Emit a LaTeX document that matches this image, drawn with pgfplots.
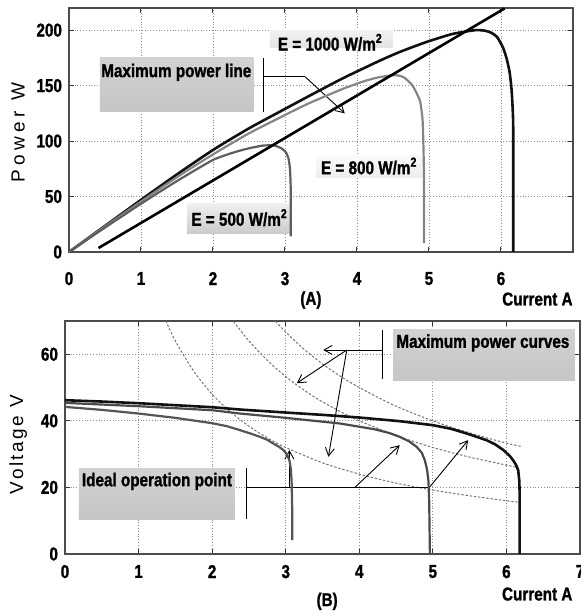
\documentclass[border=0pt]{standalone}
\usepackage{fontspec}
\setmainfont{Liberation Sans}[FakeStretch=0.82, BoldFeatures={FakeBold=1.2}]
\newfontfamily\labelfont{Liberation Sans}
\usepackage{pgfplots}
\pgfplotsset{compat=1.18}
\usetikzlibrary{arrows.meta}

\definecolor{c1000}{HTML}{111111}
\definecolor{c800a}{HTML}{858585}
\definecolor{c500a}{HTML}{5E5E5E}
\definecolor{c800b}{HTML}{4A4A4A}
\definecolor{c500b}{HTML}{555555}

\newcommand{\figfont}{\fontsize{9.3}{10}\selectfont\bfseries}

\tikzset{
  ann/.style={black, line width=0.45pt},
  tip/.style={-{Straight Barb[length=4pt,width=4.5pt]}},
}
\pgfplotsset{
  pv/.style={
    scale only axis,
    clip=false,
    xmin=0, xmax=7,
    axis line style={black!70, line width=0.7pt},
    grid=major,
    grid style={densely dotted, black!45, line width=0.4pt},
    tick style={black!80, line width=0.5pt},
    major tick length=2.5pt,
    tick align=inside,
    /pgf/number format/assume math mode=true,
    ticklabel style={font=\figfont},
    xticklabel style={yshift=-2pt},
  },
}

\begin{document}
\begin{tikzpicture}
\path[use as bounding box] (0,0) rectangle (290pt,307pt);

% ---------------- (A) power vs current
\begin{axis}[pv,
  at={(34.5pt,181pt)}, anchor=south west,
  width=252pt, height=122pt,
  ymin=0, ymax=220,
  xtick={0,1,2,3,4,5,6},
  ytick={0,50,100,150,200},
  xticklabel style={yshift=-4.5pt},
]
\shade[top color=gray!10, bottom color=gray!22] (axis cs:2.79,184) rectangle (axis cs:4.49,200);
\node[font=\figfont] at (axis cs:3.63,189) {E = 1000 W/m\textsuperscript{2}};
\shade[top color=gray!35, middle color=white, bottom color=gray!45] (axis cs:0.43,126.4) rectangle (axis cs:2.56,175.4);
\node[font=\figfont] at (axis cs:1.49,162) {Maximum power line};
\draw[ann] (axis cs:2.70,126) -- (axis cs:2.70,175);
\draw[ann] (axis cs:2.70,158) -- (axis cs:3.28,158);
\draw[ann, tip] (axis cs:3.28,158) -- (axis cs:3.83,125);
\shade[top color=gray!4, bottom color=gray!14] (axis cs:3.44,67) rectangle (axis cs:4.92,87);
\node[font=\figfont] at (axis cs:4.17,77.5) {E = 800 W/m\textsuperscript{2}};
\shade[top color=gray!12, bottom color=gray!40] (axis cs:1.64,17) rectangle (axis cs:3.07,44);
\node[font=\figfont] at (axis cs:2.37,31) {E = 500 W/m\textsuperscript{2}};

\addplot[c1000, line width=1.3pt, smooth, tension=0.35] coordinates {
 (0,0) (0.5,23.5) (1,47) (1.5,70) (2,92) (2.5,111.5) (3,129) (3.33,140.5)
 (3.8,156.5) (4.3,172) (4.58,180) (4.95,189) (5.32,196.5) (5.64,200)
 (5.78,199.5) (5.87,197.5) (5.95,193.5) (6.03,184) (6.08,174) (6.12,162)
 (6.145,148) (6.16,132) (6.17,110) (6.17,0)
};
\addplot[c800a, line width=1.1pt, smooth, tension=0.35] coordinates {
 (0,0) (0.5,23) (1,45.5) (1.5,67.5) (2,88) (2.5,107) (3,123.5) (3.33,134)
 (3.8,147) (4.1,154) (4.3,157.5) (4.53,159.5) (4.65,157.5) (4.76,151)
 (4.83,143) (4.88,135) (4.91,120) (4.92,102) (4.93,70) (4.93,8)
};
\addplot[c500a, line width=1.1pt, smooth, tension=0.35] coordinates {
 (0,0) (0.5,22) (1,43.5) (1.5,64) (2,83) (2.3,90) (2.5,93.5) (2.7,96)
 (2.85,96) (2.95,93.5) (3.01,90) (3.05,84) (3.07,74) (3.08,55) (3.08,14)
};
\addplot[black, line width=1.3pt] coordinates {(0.41,3.6) (6.05,219.6)};

\node[font=\figfont] at (rel axis cs:0.480,-0.197) {(A)};
\node[font=\figfont, anchor=east, inner sep=0pt] at (rel axis cs:1,-0.193) {Current A};
\node[rotate=90, font=\labelfont\fontsize{9.5}{10}\selectfont] at (rel axis cs:-0.101,0.49)
  {P\kern2.2pt o\kern2.2pt w\kern2.2pt e\kern2.2pt r\kern5.5pt W};
\end{axis}

% ---------------- (B) voltage vs current
\begin{axis}[pv,
  at={(32.5pt,30pt)}, anchor=south west,
  width=257.5pt, height=116.5pt,
  ymin=0, ymax=70,
  xtick={0,1,2,3,4,5,6,7},
  ytick={0,20,40,60},
]
% constant power curves
\addplot[black!55, line width=0.5pt, dash pattern=on 1.2pt off 0.9pt, smooth] coordinates {
 (2.86,69.9) (3.0,66.7) (3.25,61.5) (3.5,57.1) (3.75,53.3) (4.0,50.0) (4.25,47.1)
 (4.5,44.4) (4.75,42.1) (5.0,40.0) (5.25,38.1) (5.5,36.4) (5.75,34.8) (6.0,33.3) (6.2,32.3)
};
\addplot[black!55, line width=0.5pt, dash pattern=on 1.2pt off 0.9pt, smooth] coordinates {
 (2.29,69.9) (2.5,64.0) (2.75,58.2) (3.0,53.3) (3.25,49.2) (3.5,45.7) (3.75,42.7)
 (4.0,40.0) (4.5,35.6) (5.0,32.0) (5.5,29.1) (6.0,26.7) (6.15,26.0)
};
\addplot[black!55, line width=0.5pt, dash pattern=on 1.2pt off 0.9pt, smooth] coordinates {
 (1.37,70.1) (1.5,64.0) (1.75,54.9) (2.0,48.0) (2.25,42.7) (2.5,38.4) (2.75,34.9)
 (3.0,32.0) (3.5,27.4) (4.0,24.0) (4.5,21.3) (5.0,19.2) (5.5,17.5) (6.0,16.0) (6.15,15.6)
};

\shade[top color=gray!35, middle color=white, bottom color=gray!45] (axis cs:4.46,52) rectangle (axis cs:6.93,67.3);
\node[font=\figfont] at (axis cs:5.68,63.4) {Maximum power curves};
\draw[ann] (axis cs:4.31,52.6) -- (axis cs:4.31,67.3);
\draw[ann, tip] (axis cs:4.31,61.3) -- (axis cs:3.51,61.3);
\draw[ann, tip] (axis cs:3.83,61.3) -- (axis cs:3.15,51.3);
\draw[ann, tip] (axis cs:3.83,61.3) -- (axis cs:3.58,29.2);

\shade[top color=gray!35, middle color=white, bottom color=gray!45] (axis cs:0.19,10.5) rectangle (axis cs:2.31,25.8);
\node[font=\figfont] at (axis cs:1.25,21.8) {Ideal operation point};
\draw[ann] (axis cs:2.46,10.5) -- (axis cs:2.46,25.8);
\draw[ann] (axis cs:2.46,20) -- (axis cs:4.96,20);
\draw[ann, tip] (axis cs:3.05,20) -- (axis cs:3.05,31.2);
\draw[ann, tip] (axis cs:3.94,20) -- (axis cs:4.55,32.7);
\draw[ann, tip] (axis cs:4.96,20.2) -- (axis cs:5.48,34.2);

\addplot[c1000, line width=1.3pt] coordinates {
 (0,46.2) (0.5,45.8) (1,45.3) (1.5,44.7) (2,44.1) (2.38,43.4) (3,42.5) (3.5,41.8)
 (4,41.0) (4.55,39.9) (5.0,38.7) (5.25,37.6) (5.46,36.2) (5.73,34.2) (5.85,32.9)
 (5.96,31.2) (6.04,29.6) (6.09,28.2) (6.13,26.8) (6.16,25.2) (6.175,22) (6.18,18) (6.18,0)
};
\addplot[c800b, line width=1.1pt] coordinates {
 (0,45.4) (0.5,44.9) (1,44.4) (1.5,43.8) (2,43.2) (2.38,42.2) (3,40.9) (3.74,39.2)
 (4.2,37.5) (4.4,36.4) (4.55,35.2) (4.68,33.8) (4.78,32.2) (4.85,30.4) (4.89,28.2)
 (4.92,25.5) (4.94,22) (4.95,16) (4.955,8) (4.96,0)
};
\addplot[c500b, line width=1.1pt] coordinates {
 (0,44.2) (0.5,43.3) (1,42.2) (1.5,40.9) (2,39.3) (2.2,38.4) (2.38,37.2) (2.52,36.2)
 (2.65,35.2) (2.75,34.3) (2.83,33.2) (2.91,32.2) (2.97,31.2) (3.02,29.8) (3.05,28.2)
 (3.07,25.5) (3.08,22) (3.09,12) (3.09,4.2)
};

\node[font=\figfont] at (rel axis cs:0.509,-0.203) {(B)};
\node[font=\figfont, anchor=east, inner sep=0pt] at (rel axis cs:0.986,-0.172) {Current A};
\node[rotate=90, font=\labelfont\fontsize{9.5}{10}\selectfont] at (rel axis cs:-0.091,0.468)
  {V\kern1.2pt o\kern1.2pt l\kern1.2pt t\kern1.2pt a\kern1.2pt g\kern1.2pt e\kern4pt V};
\end{axis}
\end{tikzpicture}
\end{document}
